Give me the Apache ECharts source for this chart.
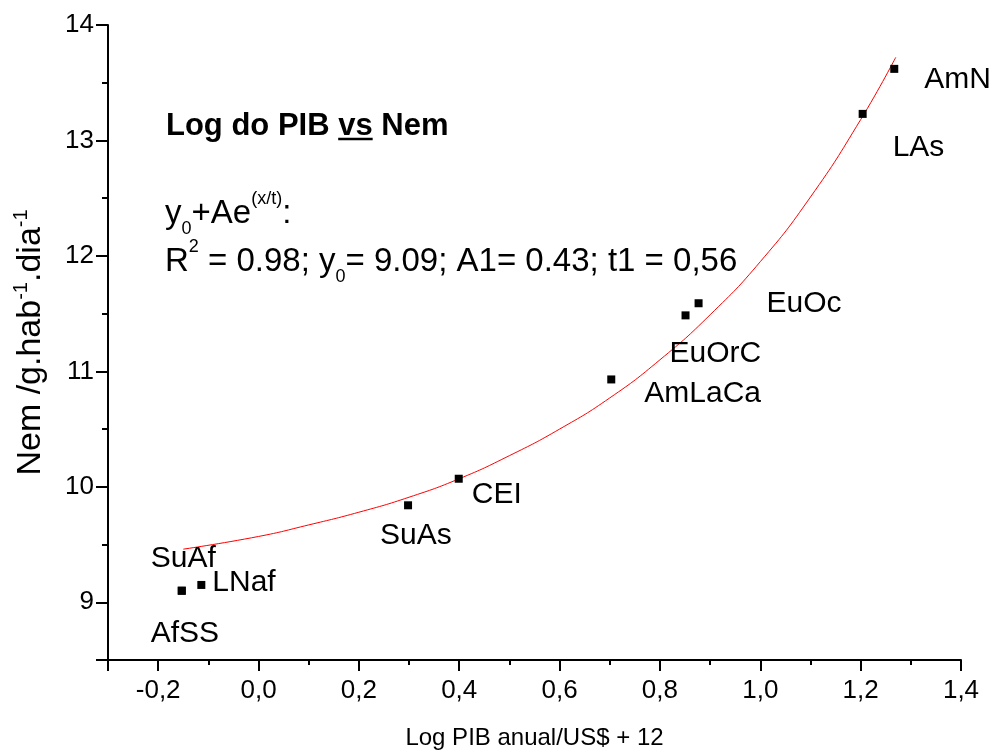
<!DOCTYPE html>
<html><head><meta charset="utf-8">
<script src="https://cdn.jsdelivr.net/npm/echarts@6/dist/echarts.min.js"></script>
<style>html,body{margin:0;padding:0;background:#fff}#c{width:995px;height:751px}</style>
</head><body><div id="c"></div>
<script>
// ---- data ----
const regions = ['AmN','LAs','EuOc','EuOrC','AmLaCa','CEI','SuAs','LNaf','SuAf','AfSS'];
const logPIB  = [1.267, 1.204, 0.877, 0.851, 0.703, 0.399, 0.298, -0.114, -0.153, -0.153];
const nem     = [13.62, 13.23, 11.59, 11.485, 10.93, 10.07, 9.84, 9.15, 9.10, 9.10];
const fitX = [-0.15, 0.0, 0.1, 0.2, 0.3, 0.4, 0.5, 0.6, 0.7, 0.8, 0.9, 1.0, 1.1, 1.2, 1.27];
const fitY = [9.46, 9.57, 9.67, 9.78, 9.91, 10.07, 10.27, 10.50, 10.77, 11.10, 11.49, 11.95, 12.51, 13.18, 13.72];
const xTickLabels = ['-0,2','0,0','0,2','0,4','0,6','0,8','1,0','1,2','1,4'];
const yTickLabels = ['9','10','11','12','13','14'];

// ---- styling (label placement relative to each point) ----
const labelOffsets = {
  AmN:[30,11], LAs:[30,34], EuOc:[68,0], EuOrC:[-16,38], AmLaCa:[33,14],
  CEI:[13,16], SuAs:[-28,30], LNaf:[11,-2], SuAf:[-31,-32], AfSS:[-31,43]
};
const FF = '"Liberation Sans", Arial, Helvetica, sans-serif';
const SYM = 8;
const TITLE_FONT = 'bold 31px ' + FF;

const scatterData = regions.map((n,i) => {
  const o = labelOffsets[n];
  return {
    name: n, value: [logPIB[i], nem[i]],
    label: { show: true, formatter: n, position: [SYM/2 + o[0], SYM/2 + o[1]],
             align: 'left', verticalAlign: 'middle', fontSize: 30, fontFamily: FF, color: '#000' }
  };
});

// measure title to underline "vs"
const cv = document.createElement('canvas').getContext('2d');
cv.font = TITLE_FONT;
const wPre = cv.measureText('Log do PIB ').width;
const wVs = cv.measureText('vs').width;
const titleLeft = 166, titleTop = 111;

const chart = echarts.init(document.getElementById('c'), null, {renderer: 'canvas'});
const axisLineStyle = {color:'#000', width:2};
chart.setOption({
  animation: false,
  backgroundColor: '#fff',
  grid: {left:108, right:34, top:25, bottom:91, containLabel:false, outerBoundsMode:'none'},
  xAxis: [
    { type:'value', min:-0.3, max:1.4, interval:0.1,
      axisLine:{show:true, onZero:false, lineStyle:axisLineStyle},
      axisTick:{show:true, length:5, lineStyle:axisLineStyle},
      axisLabel:{show:false}, splitLine:{show:false},
      name:'Log PIB anual/US$ + 12', nameLocation:'middle', nameGap:66, nameMoveOverlap:false,
      nameTextStyle:{fontSize:24, fontFamily:FF, color:'#000'} },
    { type:'value', inverse:true, min:0, max:1.7, interval:0.2, position:'bottom',
      axisLine:{show:false, onZero:false}, axisTick:{show:true, length:11, lineStyle:axisLineStyle},
      axisLabel:{show:true, margin:18, fontSize:26, fontFamily:FF, color:'#000',
        formatter: v => { const a = 1.4 - v; const k = Math.round((a + 0.2)/0.2);
          return (k>=0 && k<xTickLabels.length && Math.abs(a-(k*0.2-0.2))<1e-6) ? xTickLabels[k] : ''; } },
      splitLine:{show:false} }
  ],
  yAxis: [
    { type:'value', min:8.5, max:14, interval:0.5,
      axisLine:{show:true, onZero:false, lineStyle:axisLineStyle},
      axisTick:{show:true, length:6, lineStyle:axisLineStyle},
      axisLabel:{show:false}, splitLine:{show:false},
      name:'{m|Nem /g.hab}{sp|-1}{m|.dia}{sp|-1}', nameLocation:'middle', nameGap:57, nameMoveOverlap:false,
      nameTextStyle:{ color:'#000', rich:{
        m:{fontSize:34, fontFamily:FF, color:'#000', lineHeight:40},
        sp:{fontSize:20, fontFamily:FF, color:'#000', verticalAlign:'top', lineHeight:18}
      }} },
    { type:'value', inverse:true, min:0, max:5.5, interval:1, position:'left',
      axisLine:{show:false, onZero:false}, axisTick:{show:true, length:12, lineStyle:axisLineStyle},
      axisLabel:{show:true, margin:14, fontSize:26, fontFamily:FF, color:'#000',
        formatter: v => { const k = 5 - v;
          return (Math.abs(k - Math.round(k))<1e-6 && k>=0 && k<yTickLabels.length) ? yTickLabels[Math.round(k)] : ''; } },
      splitLine:{show:false} }
  ],
  series: [
    { type:'line', xAxisIndex:0, yAxisIndex:0, data: fitX.map((x,i)=>[x, fitY[i]]),
      smooth:true, showSymbol:false, symbol:'none', lineStyle:{color:'#ff0000', width:1}, z:2 },
    { type:'scatter', xAxisIndex:0, yAxisIndex:0, data: scatterData,
      label:{color:'#000'},
      symbol:'rect', symbolSize:SYM, itemStyle:{color:'#000', opacity:1}, z:3 }
  ],
  graphic: [
    { type:'text', left:titleLeft, top:titleTop, style:{ text:'Log do PIB vs Nem', fill:'#000',
        font:TITLE_FONT } },
    { type:'line', shape:{x1:titleLeft + wPre, y1:titleTop + 28, x2:titleLeft + wPre + wVs, y2:titleTop + 28},
      style:{stroke:'#000', lineWidth:2.5} },
    { type:'text', left:165, top:190, style:{ fill:'#000',
        text:'{m|y}{sb|0}{m|+Ae}{sp|(x/t)}{m|:}\n{m|R}{sp|2}{m| = 0.98; y}{sb|0}{m|= 9.09; A1= 0.43; t1 = 0,56}',
        rich:{
          m:{fontSize:33, fontFamily:FF, fill:'#000', lineHeight:48},
          sb:{fontSize:18, fontFamily:FF, fill:'#000', verticalAlign:'bottom', lineHeight:18},
          sp:{fontSize:18, fontFamily:FF, fill:'#000', verticalAlign:'top', lineHeight:18}
        } } }
  ]
});
</script></body></html>
